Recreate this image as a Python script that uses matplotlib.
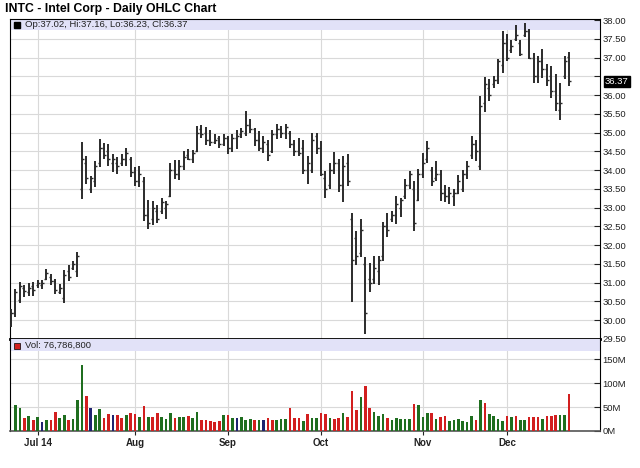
import matplotlib
matplotlib.use("Agg")
import matplotlib.pyplot as plt
import matplotlib.transforms as mtransforms
from matplotlib.patches import Rectangle
import numpy as np
import pandas as pd

# trading days shown on the chart (Jun 23 - Dec 19, 2014)
dates = pd.bdate_range("2014-06-23", "2014-12-19")
holidays = pd.to_datetime(["2014-07-04", "2014-09-01", "2014-11-27"])
dates = dates[~dates.isin(holidays)]

opens = [29.95, 30.2, 30.55, 30.85, 30.75, 30.9, 30.95, 30.95, 31.1, 31.15,
         31.05, 30.75, 30.6, 31.3, 31.4, 31.3, 33.5, 34.2, 33.5, 33.7,
         34.2, 34.6, 34.5, 34.2, 34.2, 34.2, 34.3, 34.3, 33.95, 33.7,
         33.7, 32.8, 32.7, 32.9, 32.9, 33.0, 33.3, 34.0, 33.9, 34.1,
         34.4, 34.3, 34.5, 35.1, 35.0, 34.8, 34.75, 34.85, 34.7, 34.85,
         34.6, 34.85, 34.95, 35.0, 35.2, 35.1, 34.8, 34.6, 34.7, 34.5,
         34.95, 35.1, 35.0, 35.0, 34.7, 34.5, 34.6, 34.0, 34.0, 34.9,
         34.6, 33.8, 33.6, 34.0, 34.2, 33.6, 34.2, 32.7, 32.2, 31.8,
         31.5, 31.1, 31.1, 31.3, 31.7, 32.5, 32.7, 32.8, 33.0, 33.3,
         33.6, 33.5, 33.2, 33.9, 34.3, 34.0, 33.8, 33.9, 33.4, 33.3,
         33.3, 33.4, 33.5, 33.9, 34.4, 34.7, 34.1, 35.8, 36.2, 36.3,
         36.4, 36.8, 37.4, 37.2, 37.5, 37.4, 37.6, 37.7, 37.0, 36.5,
         36.9, 36.7, 36.5, 36.1, 35.6, 36.5, 37.02]
highs = [30.31, 30.84, 31.02, 30.93, 30.99, 31.02, 31.08, 31.06, 31.37, 31.24,
         31.11, 30.97, 31.35, 31.46, 31.59, 31.81, 34.76, 34.38, 33.85, 34.25,
         34.82, 34.73, 34.69, 34.42, 34.34, 34.42, 34.58, 34.34, 34.07, 34.12,
         33.81, 33.21, 33.19, 33.08, 33.26, 33.19, 34.19, 34.27, 34.27, 34.52,
         34.56, 34.54, 35.17, 35.2, 35.15, 35.06, 34.95, 34.91, 34.95, 34.91,
         34.95, 35.06, 35.11, 35.57, 35.35, 35.13, 35.04, 34.91, 34.79, 35.08,
         35.22, 35.17, 35.23, 35.04, 34.79, 34.85, 34.79, 34.38, 35.0, 35.0,
         34.77, 33.98, 34.2, 34.49, 34.29, 34.38, 34.44, 32.87, 32.38, 32.69,
         31.68, 31.52, 31.72, 31.72, 32.61, 32.87, 32.92, 33.31, 33.27, 33.76,
         33.98, 33.71, 34.02, 34.46, 34.77, 34.08, 34.24, 33.99, 33.6, 33.55,
         33.5, 33.87, 33.99, 34.25, 34.92, 34.81, 35.98, 36.49, 36.42, 36.51,
         36.97, 37.7, 37.62, 37.48, 37.88, 37.48, 37.92, 37.75, 37.13, 37.04,
         37.22, 36.82, 36.77, 36.55, 36.33, 37.04, 37.16]
lows = [29.82, 30.09, 30.46, 30.62, 30.65, 30.65, 30.87, 30.84, 31.06, 30.93,
        30.71, 30.69, 30.46, 31.04, 31.35, 31.15, 33.23, 33.63, 33.38, 33.54,
        34.07, 34.29, 34.12, 33.94, 33.89, 34.12, 34.12, 33.81, 33.58, 33.56,
        32.64, 32.42, 32.55, 32.58, 32.84, 32.7, 33.28, 33.76, 33.74, 34.0,
        34.27, 34.2, 34.49, 34.86, 34.67, 34.64, 34.69, 34.6, 34.64, 34.44,
        34.47, 34.55, 34.86, 34.91, 35.0, 34.64, 34.51, 34.46, 34.24, 34.46,
        34.82, 34.86, 34.82, 34.6, 34.38, 34.38, 33.89, 33.62, 33.93, 34.42,
        33.85, 33.27, 33.49, 33.89, 33.43, 33.14, 33.58, 30.48, 31.46, 31.68,
        29.64, 30.75, 30.97, 30.93, 31.59, 32.21, 32.61, 32.56, 32.76, 33.23,
        33.49, 32.38, 33.18, 33.78, 34.2, 33.58, 33.71, 33.18, 33.15, 33.1,
        33.05, 33.37, 33.41, 33.77, 34.3, 34.25, 33.99, 35.54, 35.85, 36.2,
        36.29, 36.58, 36.91, 37.13, 37.44, 37.04, 37.55, 36.95, 36.33, 36.33,
        36.46, 36.24, 35.93, 35.58, 35.34, 36.42, 36.23]
closes = [30.2, 30.75, 30.9, 30.78, 30.85, 30.8, 31.0, 31.0, 31.25, 31.05,
          30.8, 30.85, 31.2, 31.15, 31.5, 31.7, 34.3, 33.8, 33.8, 34.1,
          34.6, 34.4, 34.3, 34.3, 34.1, 34.3, 34.45, 33.95, 33.7, 33.9,
          32.8, 32.6, 33.0, 32.7, 33.15, 33.1, 34.0, 33.9, 34.1, 34.35,
          34.3, 34.45, 35.0, 34.95, 34.8, 34.75, 34.8, 34.7, 34.85, 34.6,
          34.85, 34.9, 35.05, 35.2, 35.1, 34.8, 34.6, 34.75, 34.4, 34.95,
          35.1, 35.0, 35.15, 34.7, 34.5, 34.45, 34.0, 34.2, 34.8, 34.6,
          33.9, 33.5, 34.0, 34.2, 33.6, 34.1, 33.7, 31.6, 31.7, 32.4,
          30.2, 31.0, 31.4, 31.6, 32.5, 32.4, 32.8, 33.1, 33.2, 33.6,
          33.9, 32.6, 33.9, 34.2, 34.6, 33.7, 33.9, 33.4, 33.3, 33.4,
          33.4, 33.7, 33.9, 34.1, 34.7, 34.5, 35.7, 36.3, 36.0, 36.4,
          36.9, 37.4, 37.0, 37.3, 37.6, 37.1, 37.7, 37.0, 36.5, 36.9,
          36.7, 36.4, 36.1, 35.8, 35.8, 36.9, 36.37]

# volume in millions of shares
volume = [0, 54, 47, 28, 31, 23, 29, 18, 23, 24,
          40, 28, 33, 23, 26, 65, 138, 74, 49, 33,
          45, 28, 35, 33, 33, 28, 33, 37, 36, 29,
          52, 29, 29, 37, 30, 26, 37, 28, 29, 30,
          31, 28, 39, 22, 22, 21, 19, 21, 33, 33,
          27, 28, 29, 23, 26, 24, 23, 24, 27, 24,
          23, 26, 26, 49, 28, 28, 20, 35, 28, 28,
          37, 35, 28, 26, 28, 37, 30, 83, 44, 71,
          94, 49, 40, 32, 35, 28, 24, 28, 26, 25,
          26, 56, 54, 30, 37, 37, 26, 30, 31, 21,
          24, 26, 21, 19, 31, 23, 65, 59, 35, 31,
          26, 21, 31, 30, 31, 24, 23, 30, 30, 30,
          26, 31, 31, 33, 33, 33, 76.8]
# g = up, r = down, b = unchanged
vol_dir = ("gggrgrgbgr" "rggrgggrbg" "grrbrrgrrg" "rgrrgggrgg" "rggrrrrrgr"
           "gbgggrgbrr" "gggrrrgrgg" "rrgrrgrrrg" "rrgggrgggg" "grgggrgrrg"
           "gggggrgrgg" "ggrgrggrrr" "grrrggr")

month_labels = ["Jul 14", "Aug", "Sep", "Oct", "Nov", "Dec"]
legend_text = "Op:37.02, Hi:37.16, Lo:36.23, Cl:36.37"
vol_text = "Vol: 76,786,800"
last_price = 36.37

x = np.arange(len(dates))
month_pos = [i for i in range(1, len(dates)) if dates[i].month != dates[i - 1].month]

plt.rcParams["font.family"] = ["Liberation Sans", "DejaVu Sans"]
fig = plt.figure(figsize=(6.4, 4.68), dpi=100)
W, H = 640, 468
ax = fig.add_axes([9.5 / W, 1 - 339 / H, 590.5 / W, 320.5 / H])
ax2 = fig.add_axes([9.5 / W, 1 - 431 / H, 590.5 / W, 92 / H], sharex=ax)

grid_c = "#d9d9d9"
bar_c = "#2b2b2b"
colors = {"g": "#1f6e1f", "r": "#d21f1f", "b": "#1f2370"}

# price panel
price_ticks = np.arange(29.5, 38.01, 0.5)
for p in price_ticks:
    ax.axhline(p, color=grid_c, lw=0.8, zorder=0)
for m in month_pos:
    ax.axvline(m, color=grid_c, lw=0.8, zorder=0)
    ax2.axvline(m, color=grid_c, lw=0.8, zorder=0)

ax.add_patch(Rectangle((0, 1 - 11.5 / 320.5), 1, 11.5 / 320.5, transform=ax.transAxes,
                       facecolor="#e2e2f8", edgecolor="none", zorder=1))
ax.vlines(x, lows, highs, color=bar_c, lw=1.4, zorder=3)
ax.hlines(opens, x - 0.45, x, color=bar_c, lw=1.0, zorder=3)
ax.hlines(closes, x, x + 0.45, color=bar_c, lw=1.0, zorder=3)

ax.set_xlim(-0.35, 133)
ax.set_ylim(29.5, 38.04)
ax.yaxis.tick_right()
ax.set_yticks(price_ticks)
ax.set_yticklabels(["" if abs(p - 36.5) < 1e-6 else f"{p:.2f}" for p in price_ticks])
ax.tick_params(axis="y", direction="in", length=4, width=0.8, labelsize=6.8,
               colors="#222222", pad=2)
ax.tick_params(axis="x", length=0, labelbottom=False)
for s in ["top", "left", "right"]:
    ax.spines[s].set_linewidth(0.8)
ax.spines["bottom"].set_linewidth(2)

trans = mtransforms.blended_transform_factory(ax.transAxes, ax.transData)
ax.text(1.008, last_price, f"{last_price:.2f}", transform=trans, color="white",
        fontsize=6.8, va="center", ha="left",
        bbox=dict(boxstyle="square,pad=0.12", fc="black", ec="black"))

# volume panel
vol_ticks = [0, 50, 100, 150]
for v in vol_ticks:
    ax2.axhline(v, color=grid_c, lw=0.8, zorder=0)
ax2.add_patch(Rectangle((0, 1 - 12 / 92), 1, 12 / 92, transform=ax2.transAxes,
                        facecolor="#e2e2f8", edgecolor="none", zorder=1))
ax2.bar(x, volume, width=0.6, color=[colors[d] for d in vol_dir], zorder=3)
ax2.set_ylim(0, 192)
ax2.yaxis.tick_right()
ax2.set_yticks(vol_ticks)
ax2.set_yticklabels([f"{v}M" for v in vol_ticks])
ax2.tick_params(axis="y", direction="in", length=4, width=0.8, labelsize=6.8,
                colors="#222222", pad=2)
ax2.set_xticks(month_pos)
ax2.set_xticklabels(month_labels, fontweight="bold", fontsize=7)
ax2.tick_params(axis="x", length=3, width=0.8, pad=2, colors="#222222")
ax2.spines["top"].set_visible(False)
for s in ["left", "right"]:
    ax2.spines[s].set_linewidth(0.8)
ax2.spines["bottom"].set_linewidth(1.2)
ax2.spines["bottom"].set_color("#555555")

# title and legends
fig.text(5 / W, 1 - 9 / H, "INTC - Intel Corp - Daily OHLC Chart", fontsize=8.8,
         fontweight="bold", va="center", ha="left")
fig.patches.append(Rectangle((14 / W, 1 - 27.5 / H), 6 / W, 6 / H, transform=fig.transFigure,
                             facecolor="black", edgecolor="black"))
fig.text(25 / W, 1 - 24.5 / H, legend_text, fontsize=6.8, va="center", ha="left", color="#222222")
fig.patches.append(Rectangle((14 / W, 1 - 348.5 / H), 6 / W, 6 / H, transform=fig.transFigure,
                             facecolor="#d21f1f", edgecolor="black", lw=0.5))
fig.text(25 / W, 1 - 345.5 / H, vol_text, fontsize=6.8, va="center", ha="left", color="#222222")

fig.savefig("out.png", dpi=100)
